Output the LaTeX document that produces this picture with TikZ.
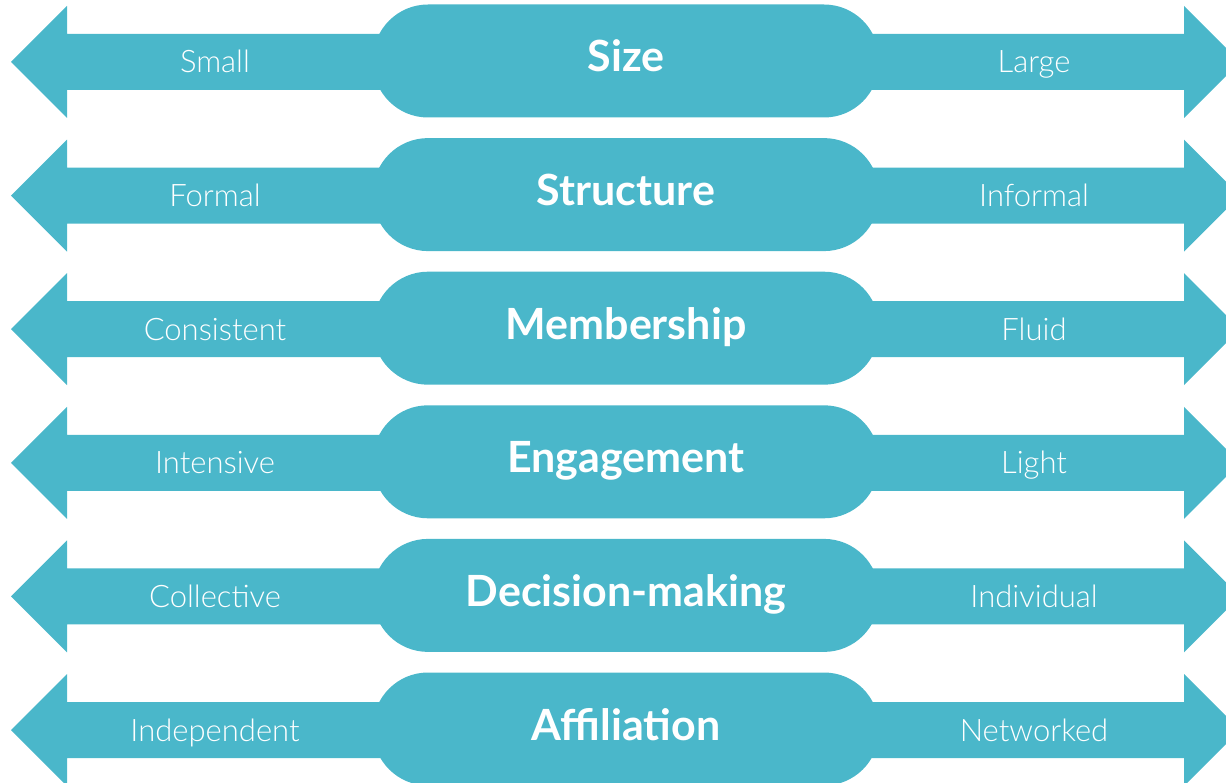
\documentclass[tikz,border=0pt]{standalone}
\usepackage{fontspec}
\setmainfont{Lato}
\newfontfamily\lightfont{Lato Light}

\definecolor{scaleblue}{HTML}{4AB7CA}

\tikzset{
  pill/.style={fill=scaleblue, rounded corners=55pt, minimum width=506pt,
    minimum height=113pt, text=white, text height=22pt, text depth=0pt,
    font=\bfseries\fontsize{43}{43}\selectfont},
  endlabel/.style={text=white, text height=22pt, text depth=0pt,
    font=\lightfont\fontsize{31}{31}\selectfont}
}

\begin{document}
\begin{tikzpicture}[x=1pt,y=-1pt]
            % Page frame
            \useasboundingbox (0,0) rectangle (1226,783);

            \foreach \i/\name/\leftlab/\rightlab in {0/Size/Small/Large,
                1/Structure/Formal/Informal, 2/Membership/Consistent/Fluid,
                3/Engagement/Intensive/Light, 4/Decision-making/Collective/Individual,
                5/Affiliation/Independent/Networked}{
              \pgfmathsetmacro\y{62+133.6*\i}

              % Double arrow
              \fill[scaleblue] (11,\y) -- (67,\y-56) -- (67,\y-28) -- (1184,\y-28)
                -- (1184,\y-56) -- (1240,\y) -- (1184,\y+56) -- (1184,\y+28)
                -- (67,\y+28) -- (67,\y+56) -- cycle;

              % Dimension pill
              \node[pill] (dim\i) at (626,\y-1) {\name};

              % End labels
              \node[endlabel] (low\i) at (215,\y) {\leftlab};
              \node[endlabel] (high\i) at (1034,\y) {\rightlab};
            }
\end{tikzpicture}
\end{document}
